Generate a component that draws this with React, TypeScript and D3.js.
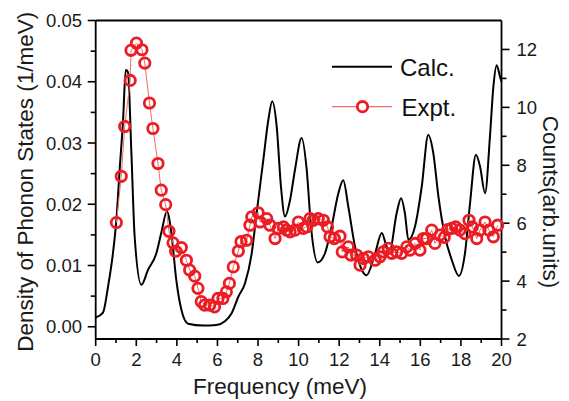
import React from "react";
import * as d3 from "d3";

// Calculated phonon density of states (left axis, 1/meV)
const calcFreq = [0, 0.36, 0.61, 0.85, 1.02, 1.18, 1.35, 1.48, 1.59, 1.76, 1.92, 2.25, 2.58, 2.99, 3.23, 3.51, 3.73, 3.97, 4.22, 4.55, 5.29, 5.95, 6.37, 6.7, 7.03, 7.36, 7.69, 7.93, 8.26, 8.51, 8.7, 8.92, 9.13, 9.33, 9.58, 9.82, 10.15, 10.4, 10.61, 10.94, 11.3, 11.63, 11.96, 12.2, 12.45, 12.78, 13.11, 13.35, 13.77, 14.1, 14.34, 14.5, 14.83, 15.05, 15.24, 15.41, 15.74, 16.07, 16.39, 16.64, 16.89, 17.22, 17.55, 17.9, 18.2, 18.45, 18.74, 18.94, 19.19, 19.43, 19.6, 19.76, 19.93, 20];
const calcDos = [0.0015, 0.0023, 0.0066, 0.012, 0.0175, 0.0256, 0.0338, 0.0419, 0.0416, 0.0283, 0.0147, 0.00685, 0.0093, 0.012, 0.0153, 0.0188, 0.0153, 0.0077, 0.0028, 0.0005, 0.0002, 0.0003, 0.0009, 0.0022, 0.0049, 0.0071, 0.012, 0.0185, 0.0272, 0.0338, 0.0368, 0.0327, 0.0229, 0.018, 0.0207, 0.0256, 0.0308, 0.0256, 0.0164, 0.0105, 0.012, 0.0164, 0.0218, 0.0239, 0.0196, 0.0131, 0.0093, 0.0084, 0.012, 0.0153, 0.0131, 0.0126, 0.0185, 0.021, 0.0185, 0.0142, 0.0164, 0.0229, 0.0313, 0.0283, 0.0213, 0.0147, 0.0109, 0.0083, 0.012, 0.0202, 0.0281, 0.0262, 0.0218, 0.031, 0.0392, 0.0427, 0.0408, 0.04];

// Measured counts (right axis, arb. units)
const exptFreq = [1.02, 1.26, 1.43, 1.7, 1.74, 2.01, 2.28, 2.42, 2.65, 2.82, 3.07, 3.23, 3.45, 3.61, 3.81, 3.94, 4.22, 4.47, 4.63, 4.88, 5.04, 5.2, 5.37, 5.62, 5.86, 6.03, 6.27, 6.44, 6.59, 6.78, 7.03, 7.16, 7.44, 7.6, 7.69, 8.01, 8.1, 8.43, 8.59, 8.84, 9.0, 9.25, 9.41, 9.58, 9.82, 9.99, 10.23, 10.4, 10.56, 10.72, 10.97, 11.22, 11.43, 11.55, 11.76, 12.04, 12.15, 12.45, 12.58, 12.86, 13.03, 13.19, 13.44, 13.77, 14.01, 14.17, 14.42, 14.59, 14.83, 15.08, 15.33, 15.49, 15.74, 15.98, 16.15, 16.31, 16.56, 16.72, 16.97, 17.18, 17.35, 17.54, 17.74, 17.95, 18.2, 18.4, 18.56, 18.78, 18.94, 19.19, 19.38, 19.6, 19.81];
const exptCounts = [6.02, 7.62, 9.34, 10.93, 11.97, 12.22, 11.99, 11.53, 10.15, 9.27, 8.06, 7.14, 6.64, 5.72, 5.32, 5.03, 5.16, 4.72, 4.38, 4.17, 3.75, 3.29, 3.17, 3.17, 3.11, 3.4, 3.4, 3.63, 3.92, 4.49, 5.04, 5.36, 5.41, 5.93, 6.22, 6.36, 6.04, 6.16, 5.93, 5.47, 5.82, 5.87, 5.76, 5.7, 5.76, 6.04, 5.82, 5.87, 6.16, 6.1, 6.16, 6.1, 5.87, 5.53, 5.47, 5.55, 5.01, 5.18, 4.9, 4.9, 4.55, 4.78, 4.84, 4.72, 4.84, 5.01, 5.13, 4.96, 5.01, 4.96, 5.18, 5.07, 5.3, 5.07, 5.47, 5.47, 5.76, 5.3, 5.59, 5.51, 5.78, 5.82, 5.87, 5.76, 5.64, 6.1, 5.87, 5.47, 5.76, 6.04, 5.76, 5.53, 5.93];

const xTicks = [0, 2, 4, 6, 8, 10, 12, 14, 16, 18, 20];
const xMinor = [1, 3, 5, 7, 9, 11, 13, 15, 17, 19];
const leftTicks = [0, 0.01, 0.02, 0.03, 0.04, 0.05];
const leftMinor = [0.005, 0.015, 0.025, 0.035, 0.045];
const rightTicks = [2, 4, 6, 8, 10, 12];
const rightMinor = [3, 5, 7, 9, 11];

const W = 569;
const H = 401;
const FONT = "'Liberation Sans', Arial, Helvetica, sans-serif";
const RED = "#ec1c24";
const LIGHT_RED = "#f26a6a";
const INK = "#1a1a1a";

export default function App() {
  const left = 95.7;
  const right = 501.5;
  const top = 20.5;
  const bottom = 339;

  const x = d3.scaleLinear().domain([0, 20]).range([left, right]);
  const yL = d3.scaleLinear().domain([-0.002, 0.05]).range([bottom, top]);
  const yR = d3.scaleLinear().domain([2, 13]).range([bottom, top]);

  const calcPts: [number, number][] = calcFreq.map((f, i) => [f, calcDos[i]]);
  const exptPts: [number, number][] = exptFreq.map((f, i) => [f, exptCounts[i]]);

  const calcLine = d3
    .line<[number, number]>()
    .x((d) => x(d[0]))
    .y((d) => yL(d[1]))
    .curve(d3.curveMonotoneX)(calcPts) as string;

  const exptLine = d3
    .line<[number, number]>()
    .x((d) => x(d[0]))
    .y((d) => yR(d[1]))(exptPts) as string;

  const axisStroke = 1.8;

  return (
    <svg
      width={W}
      height={H}
      style={{ position: "absolute", left: 0, top: 0, background: "#fff" }}
      fontFamily={FONT}
    >
      <rect x={0} y={0} width={W} height={H} fill="#fff" />

      {/* frame */}
      <line x1={left} x2={right} y1={top} y2={top} stroke="#000" strokeWidth={axisStroke} />
      <line x1={left} x2={right} y1={bottom} y2={bottom} stroke="#000" strokeWidth={axisStroke} />
      <line x1={left} x2={left} y1={top} y2={bottom} stroke="#000" strokeWidth={axisStroke} />
      <line x1={right} x2={right} y1={top} y2={bottom} stroke="#000" strokeWidth={axisStroke} />

      {/* bottom axis */}
      {xTicks.map((t) => (
        <g key={"xt" + t}>
          <line x1={x(t)} x2={x(t)} y1={bottom} y2={bottom + 7} stroke="#000" strokeWidth={1.6} />
          <text x={x(t)} y={366} fontSize={18.5} textAnchor="middle" fill={INK}>
            {t}
          </text>
        </g>
      ))}
      {xMinor.map((t) => (
        <line key={"xm" + t} x1={x(t)} x2={x(t)} y1={bottom} y2={bottom + 4} stroke="#000" strokeWidth={1.6} />
      ))}

      {/* left axis */}
      {leftTicks.map((t) => (
        <g key={"lt" + t}>
          <line x1={left - 8} x2={left} y1={yL(t)} y2={yL(t)} stroke="#000" strokeWidth={1.6} />
          <text x={82} y={yL(t) + 6.5} fontSize={18.5} textAnchor="end" fill={INK}>
            {t.toFixed(2)}
          </text>
        </g>
      ))}
      {leftMinor.map((t) => (
        <line key={"lm" + t} x1={left - 5} x2={left} y1={yL(t)} y2={yL(t)} stroke="#000" strokeWidth={1.6} />
      ))}

      {/* right axis */}
      {rightTicks.map((t) => (
        <g key={"rt" + t}>
          <line x1={right} x2={right + 8} y1={yR(t)} y2={yR(t)} stroke="#000" strokeWidth={1.6} />
          <text x={516.5} y={yR(t) + 6.5} fontSize={18.5} textAnchor="start" fill={INK}>
            {t}
          </text>
        </g>
      ))}
      {rightMinor.map((t) => (
        <line key={"rm" + t} x1={right} x2={right + 5} y1={yR(t)} y2={yR(t)} stroke="#000" strokeWidth={1.6} />
      ))}

      {/* axis titles */}
      <text x={280} y={394} fontSize={22.5} textAnchor="middle" fill={INK}>
        Frequency (meV)
      </text>
      <text
        transform={`translate(33, ${(top + bottom) / 2 + 2}) rotate(-90)`}
        fontSize={22.5}
        textAnchor="middle"
        fill={INK}
      >
        Density of Phonon States (1/meV)
      </text>
      <text
        transform={`translate(543, 202) rotate(90)`}
        fontSize={22.5}
        textAnchor="middle"
        fill={INK}
      >
        Counts(arb.units)
      </text>

      {/* calculated DOS */}
      <path d={calcLine} fill="none" stroke="#000" strokeWidth={2} strokeLinejoin="round" />

      {/* measured counts */}
      <path d={exptLine} fill="none" stroke={LIGHT_RED} strokeWidth={1} />
      {exptPts.map((d, i) => (
        <circle key={"e" + i} cx={x(d[0])} cy={yR(d[1])} r={5.2} fill="none" stroke={RED} strokeWidth={2.8} />
      ))}

      {/* legend */}
      <line x1={332} x2={392} y1={66.7} y2={66.7} stroke="#000" strokeWidth={2} />
      <text x={400} y={75.5} fontSize={24} fill="#111">
        Calc.
      </text>
      <line x1={332} x2={392} y1={106.7} y2={106.7} stroke={LIGHT_RED} strokeWidth={1.2} />
      <circle cx={362.5} cy={106.7} r={5.2} fill="#fff" stroke={RED} strokeWidth={2.8} />
      <text x={401.5} y={115.5} fontSize={24} fill="#111">
        Expt.
      </text>
    </svg>
  );
}
